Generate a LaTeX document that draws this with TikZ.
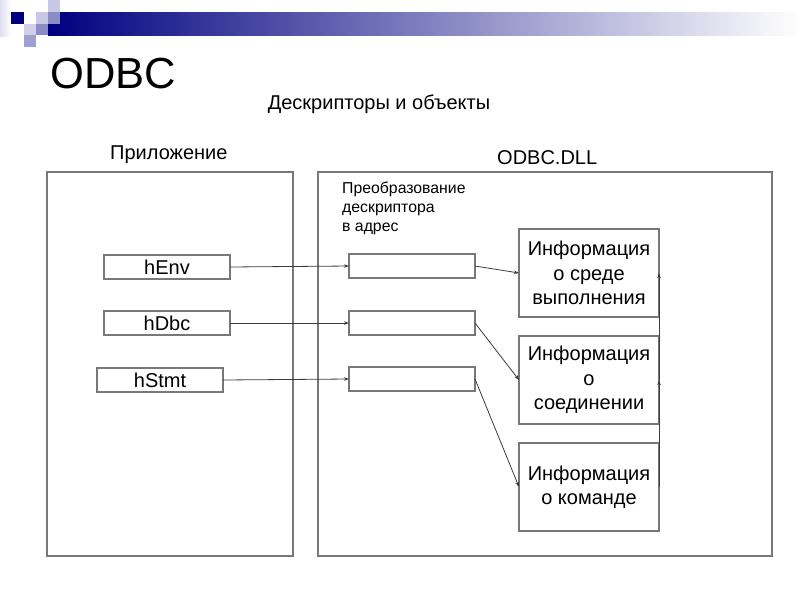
\documentclass[tikz,border=0pt]{standalone}
\usepackage{fontspec}
\setmainfont{Liberation Sans}
\usetikzlibrary{arrows.meta}
\definecolor{navyb}{RGB}{0,0,128}
\definecolor{lavl}{RGB}{200,200,230}
\definecolor{lavm}{RGB}{140,140,196}
\definecolor{lavp}{RGB}{160,160,208}
\definecolor{boxgray}{RGB}{120,120,120}
\definecolor{arrgray}{RGB}{60,60,60}
\tikzset{
  frame/.style={draw=boxgray, line width=1.2pt},
  handle/.style={draw=boxgray, line width=1.2pt, outer sep=0pt, minimum width=126pt, minimum height=24pt, inner sep=0pt, anchor=north west, font=\fontsize{20}{24}\selectfont},
  slot/.style={draw=boxgray, line width=1.2pt, outer sep=0pt, minimum width=126pt, minimum height=24pt, inner sep=0pt, anchor=north west},
  info/.style={draw=boxgray, line width=1.2pt, outer sep=0pt, minimum width=140pt, minimum height=88pt, inner sep=0pt, anchor=north west, align=center, font=\fontsize{20}{24.5}\selectfont},
  conn/.style={draw=arrgray, line width=0.8pt, -{Stealth[length=5pt,width=3.5pt]}},
}
\begin{document}
\begin{tikzpicture}[x=1pt,y=-1pt]
\useasboundingbox (0,0) rectangle (800,600);
% header decoration
\shade[left color=lavl!60, right color=white] (0,0) rectangle (11,36);
\shade[left color=navyb, right color=white] (48,12) rectangle (800,35);
\fill[navyb] (11,12) rectangle (24,24);
\fill[lavl] (36,12) rectangle (48,24);
\fill[lavm] (48,12) rectangle (60,24);
\fill[lavl] (48,0) rectangle (60,12);
\fill[lavl!85] (24,24) rectangle (36,35);
\fill[lavm] (36,24) rectangle (48,35);
\fill[lavp] (24,35) rectangle (36,47);
% titles
\node[anchor=base west, inner sep=0pt, font=\fontsize{43.5}{48}\selectfont] (title) at (50,88) {ODBC};
\node[anchor=base, inner sep=0pt, font=\fontsize{20}{24}\selectfont] (sub) at (379,109) {Дескрипторы и объекты};
\node[anchor=base west, inner sep=0pt, font=\fontsize{20}{24}\selectfont] (applbl) at (110,159) {Приложение};
\node[anchor=base west, inner sep=0pt, font=\fontsize{20}{24}\selectfont] (dlllbl) at (497,164) {ODBC.DLL};
% frames
\draw[frame] (47,172) rectangle (293,556);
\draw[frame] (318,172) rectangle (772,556);
% note
\node[anchor=north west, inner sep=0pt, align=left, font=\fontsize{15.8}{19}\selectfont] (note) at (342,182) {Преобразование\\дескриптора\\в адрес};
% handles
\node[handle] (henv) at (104,255) {hEnv};
\node[handle] (hdbc) at (104,311) {hDbc};
\node[handle] (hstmt) at (97,368) {hStmt};
% slots
\node[slot] (s1) at (349,254) {};
\node[slot] (s2) at (349,311) {};
\node[slot] (s3) at (349,367) {};
% info boxes
\node[info] (i1) at (519,229) {Информация\\о среде\\выполнения};
\node[info] (i2) at (519,336) {Информация\\о\\соединении};
\node[info] (i3) at (519,443) {Информация\\о команде};
% connectors
\draw[conn] (henv.east) -- (s1.west);
\draw[conn] (hdbc.east) -- (s2.west);
\draw[conn] (hstmt.east) -- (s3.west);
\draw[conn] (s1.east) -- (i1.west);
\draw[conn] (s2.east) -- (i2.west);
\draw[conn] (s3.east) -- (i3.west);
\draw[conn] (i2.east) -- (i1.east);
\draw[conn] (i3.east) -- (i2.east);
\end{tikzpicture}
\end{document}
